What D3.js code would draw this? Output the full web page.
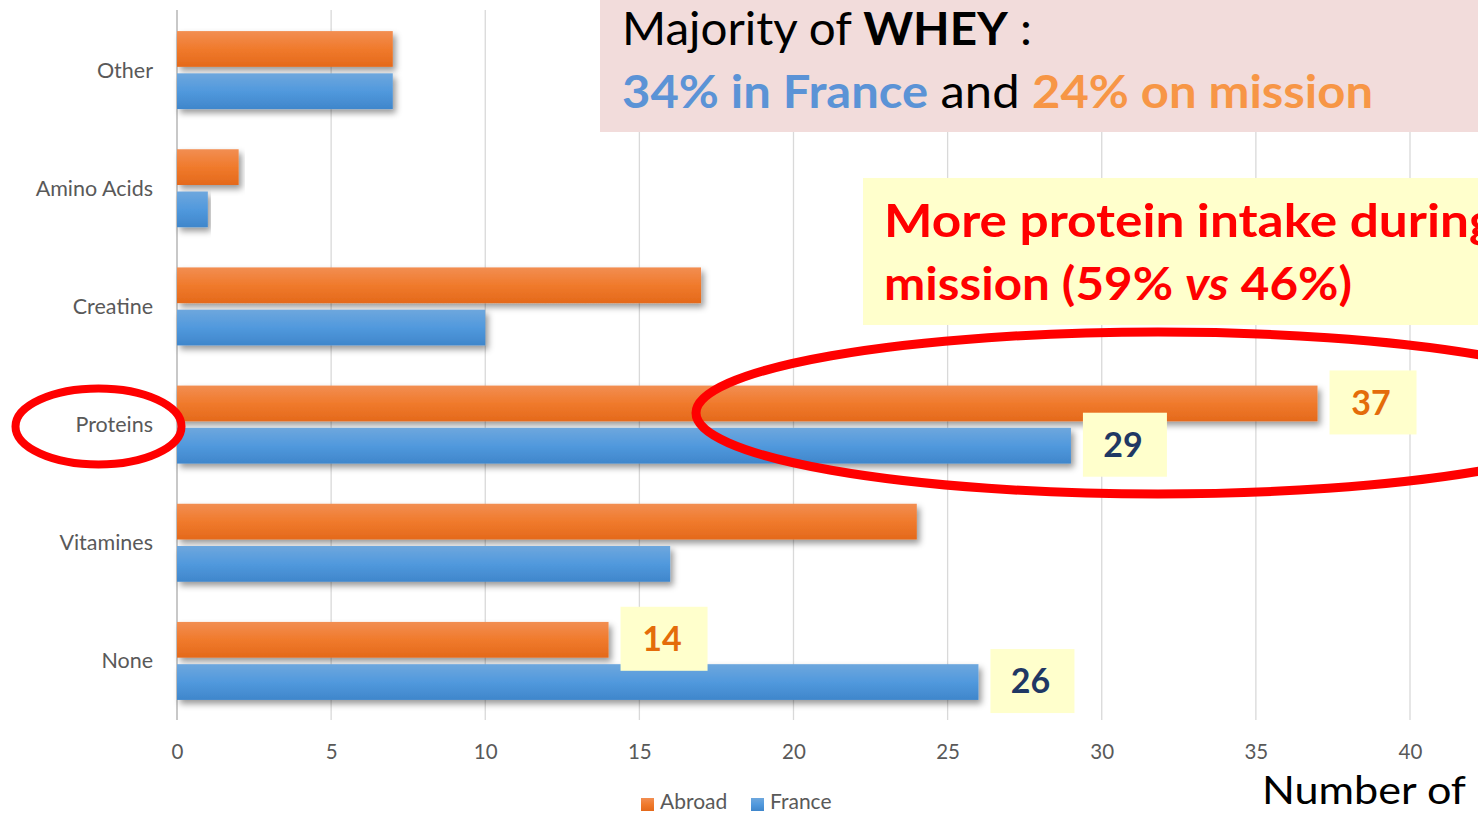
<!DOCTYPE html>
<html><head><meta charset="utf-8">
<script src="https://cdn.jsdelivr.net/npm/d3@7"></script>
<style>html,body{margin:0;padding:0;background:#fff;overflow:hidden}svg{display:block}</style>
</head><body>
<svg id="chart" width="1478" height="815"></svg>
<script>
const categories = ["Other","Amino Acids","Creatine","Proteins","Vitamines","None"];
const seriesNames = ["Abroad","France"];
const abroadValues = [7, 2, 17, 37, 24, 14];
const franceValues = [7, 1, 10, 29, 16, 26];
const xTicks = [0,5,10,15,20,25,30,35,40];
const labelledCategories = ["Proteins","None"];
const seriesColors = {Abroad:["#f28e52","#f07a2c","#e4691b"], France:["#6ea7dd","#5199dd","#3f86cb"]};
const labelColors = {Abroad:"#e46c0a", France:"#1f3864"};

const svg = d3.select("#chart");
const defs = svg.append("defs");
Object.entries(seriesColors).forEach(([k,c])=>{
  const g = defs.append("linearGradient").attr("id","grad-"+k).attr("x1",0).attr("x2",0).attr("y1",0).attr("y2",1);
  g.append("stop").attr("offset","0%").attr("stop-color",c[0]);
  g.append("stop").attr("offset","50%").attr("stop-color",c[1]);
  g.append("stop").attr("offset","100%").attr("stop-color",c[2]);
});
const f = defs.append("filter").attr("id","shadow").attr("x","-5%").attr("y","-30%").attr("width","115%").attr("height","180%");
f.append("feDropShadow").attr("dx",3).attr("dy",4).attr("stdDeviation",3).attr("flood-color","#000").attr("flood-opacity",0.4);

const x = d3.scaleLinear().domain([0,40]).range([177,1410]);
const y = d3.scaleBand().domain(categories).range([11,720]).paddingInner(0).paddingOuter(0);
const sub = d3.scaleBand().domain(seriesNames).range([-39,39]).paddingInner(0.154);

const data = categories.map((c,i)=>({cat:c, Abroad:abroadValues[i], France:franceValues[i]}));
const font = "Lato, 'Open Sans', sans-serif";

// gridlines
svg.append("g").selectAll("line").data(xTicks).join("line")
  .attr("x1",d=>x(d)).attr("x2",d=>x(d)).attr("y1",10).attr("y2",720)
  .attr("stroke",d=>d===0?"#c8c8c8":"#d9d9d9").attr("stroke-width",d=>d===0?2:1.3);

// x tick labels
const xAxis = d3.axisBottom(x).tickValues(xTicks).tickSize(0).tickPadding(0);
const ax = svg.append("g").attr("transform","translate(0,752)").call(xAxis);
ax.select(".domain").remove();
ax.selectAll("text").attr("font-family",font).attr("font-size",20.5).attr("fill","#595959").attr("dy","0.35em");

// y category labels
const yAxis = d3.axisLeft(y).tickSize(0).tickPadding(0);
const ay = svg.append("g").attr("transform","translate(153,0)").call(yAxis);
ay.select(".domain").remove();
ay.selectAll("text").attr("font-family",font).attr("font-size",21.5).attr("fill","#595959").attr("dy","0.35em");

// bars
const groups = svg.append("g").selectAll("g").data(data).join("g")
  .attr("transform",d=>`translate(0,${y(d.cat)+y.bandwidth()/2})`);
groups.selectAll("rect").data(d=>seriesNames.map(s=>({s, v:d[s], cat:d.cat}))).join("rect")
  .attr("x",x(0)).attr("y",d=>sub(d.s)).attr("height",sub.bandwidth())
  .attr("width",d=>x(d.v)-x(0)).attr("fill",d=>`url(#grad-${d.s})`).attr("filter","url(#shadow)");

// data labels
const lab = svg.append("g");
data.filter(d=>labelledCategories.includes(d.cat)).forEach(d=>{
  seriesNames.forEach(s=>{
    const cy = y(d.cat)+y.bandwidth()/2 + sub(s) + sub.bandwidth()/2 - 1;
    const bx = x(d[s]) + 12;
    const w = s==="Abroad"?87:84;
    lab.append("rect").attr("x",bx).attr("y",cy-32).attr("width",w).attr("height",64).attr("fill","#ffffcc");
    lab.append("text").attr("x",bx+w/2-2).attr("y",cy).attr("dy","0.36em").attr("text-anchor","middle")
      .attr("font-family",font).attr("font-weight",700).attr("font-size",34).attr("fill",labelColors[s]).text(d[s]);
  });
});

// pink annotation box
svg.append("rect").attr("x",600).attr("y",0).attr("width",878).attr("height",132).attr("fill","#f2dcdb");
const t1 = svg.append("text").attr("x",622).attr("y",45).attr("font-family",font).attr("font-size",46).attr("fill","#000")
  .attr("textLength",410).attr("lengthAdjust","spacingAndGlyphs");
t1.append("tspan").text("Majority of ");
t1.append("tspan").attr("font-weight",700).text("WHEY");
t1.append("tspan").text(" :");
const t2 = svg.append("text").attr("x",622).attr("y",108).attr("font-family",font).attr("font-size",46)
  .attr("textLength",751).attr("lengthAdjust","spacingAndGlyphs");
t2.append("tspan").attr("font-weight",700).attr("fill","#5b93d6").text("34% in France");
t2.append("tspan").attr("fill","#000").text(" and ");
t2.append("tspan").attr("font-weight",700).attr("fill","#f79646").text("24% on mission");

// yellow annotation box
svg.append("rect").attr("x",863).attr("y",178).attr("width",615).attr("height",147).attr("fill","#ffffcc");
svg.append("text").attr("x",884).attr("y",237).attr("font-family",font).attr("font-size",46).attr("font-weight",700)
  .attr("fill","#ff0000").attr("textLength",612).attr("lengthAdjust","spacingAndGlyphs").text("More protein intake during");
const t4 = svg.append("text").attr("x",884).attr("y",300).attr("font-family",font).attr("font-size",46).attr("font-weight",700)
  .attr("fill","#ff0000").attr("textLength",468).attr("lengthAdjust","spacingAndGlyphs");
t4.append("tspan").text("mission (59% ");
t4.append("tspan").attr("font-style","italic").text("vs");
t4.append("tspan").text(" 46%)");

// red ellipses
svg.append("ellipse").attr("cx",98.5).attr("cy",426.5).attr("rx",83).attr("ry",38)
  .attr("fill","none").attr("stroke","#ff0000").attr("stroke-width",8);
svg.append("ellipse").attr("cx",1158).attr("cy",413).attr("rx",462).attr("ry",81)
  .attr("fill","none").attr("stroke","#ff0000").attr("stroke-width",9);

// legend
const leg = svg.append("g").attr("transform","translate(641,802)");
seriesNames.forEach((s,i)=>{
  const gx = i===0?0:110;
  leg.append("rect").attr("x",gx).attr("y",-4).attr("width",13).attr("height",13).attr("fill",`url(#grad-${s})`);
  leg.append("text").attr("x",gx+19).attr("y",0).attr("dy","0.35em").attr("font-family",font).attr("font-size",21)
    .attr("fill","#595959").text(s);
});

// axis title (near the bottom-right edge as in the reference)
svg.append("text").attr("x",1262).attr("y",804).attr("font-family",font).attr("font-size",38).attr("fill","#000")
  .attr("textLength",204).attr("lengthAdjust","spacingAndGlyphs").text("Number of");
</script>
</body></html>
